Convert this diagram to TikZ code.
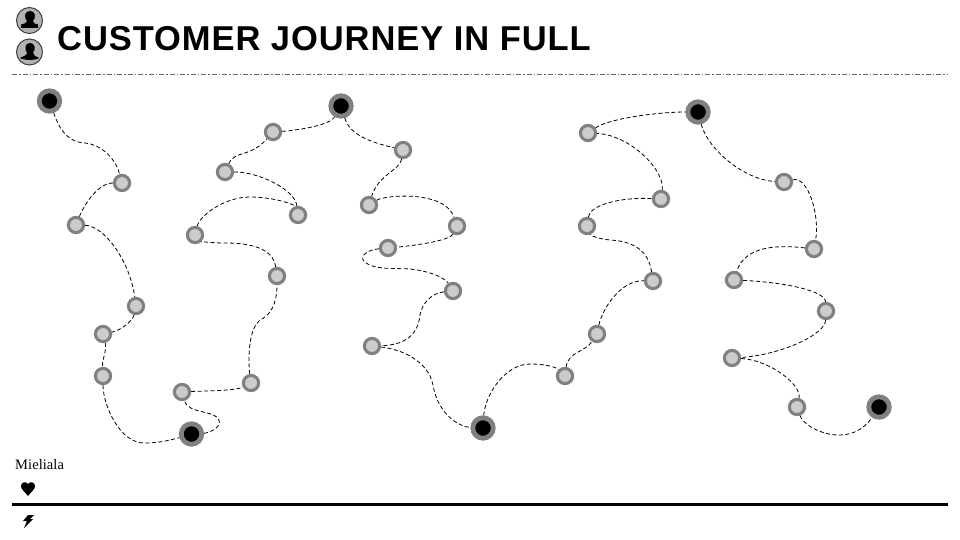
\documentclass[tikz,border=0pt]{standalone}
\usepackage{fontspec}
\setmainfont{Liberation Sans}
\newfontfamily\serifish{Liberation Serif}
\definecolor{ringgray}{gray}{0.5}
\definecolor{corelight}{gray}{0.8}
\tikzset{
 x=1pt,y=-1pt,
 stopA/.style={circle,draw=ringgray,line width=3.1pt,fill=corelight,minimum size=15.2pt,inner sep=0pt},
 stopB/.style={circle,draw=ringgray,line width=4.8pt,fill=black,minimum size=20.5pt,inner sep=0pt},
 link/.style={draw=black,line width=0.8pt,dash pattern=on 4pt off 2.5pt},
 avatar/.style={circle,draw=black!75,line width=1pt,fill=black!30,minimum size=26pt,inner sep=0pt},
}
\begin{document}
\begin{tikzpicture}
\useasboundingbox (0,0) rectangle (960,540);
\fill[white] (0,0) rectangle (960,540);
% header
\node[avatar] (av1) at (29.5,20.5) {};
\fill[black] (21,28) -- (38,28) -- (38,24.5) .. controls (35,23.5) and (33,23.5) .. (33,21) .. controls (36,18) and (36,11) .. (30,11) .. controls (24,11) and (24,18) .. (27,21) .. controls (27,23.5) and (24,23.5) .. (21,24.5) -- cycle;
\node[avatar] (av2) at (29.5,52) {};
\fill[black] (20,58) .. controls (23,56) and (27,56) .. (27,52.5) .. controls (24,49) and (25,43) .. (30,43) .. controls (35,43) and (36,49) .. (33,52.5) .. controls (33,56) and (36,56) .. (39,58) .. controls (36,60.5) and (24,60.5) .. (20,58) -- cycle;
\node[anchor=base west,inner sep=0pt,font=\bfseries\fontsize{34.5}{36}\selectfont\addfontfeatures{LetterSpace=2.7}] (title) at (57,51) {CUSTOMER JOURNEY IN FULL};
\coordinate (ruleL) at (12,74.5);
\coordinate (ruleR) at (948,74.5);
\draw[black!60,line width=1.2pt,dash pattern=on 5pt off 2pt on 1.5pt off 2pt] (ruleL) -- (ruleR);
% stops
\foreach \n/\x/\y/\s in {
 1/49.5/101/stopB,2/122/183/stopA,3/76/225/stopA,4/136/306/stopA,5/103/334/stopA,6/103/376/stopA,7/191.5/434/stopB,
 8/182/392/stopA,9/251/383/stopA,10/277/276/stopA,11/195/235/stopA,12/298/215/stopA,13/225/172/stopA,14/273/132/stopA,15/341/106/stopB,
 16/403/150/stopA,17/369/205/stopA,18/457/226/stopA,19/388/248/stopA,20/453/291/stopA,21/372/346/stopA,22/483/428/stopB,
 23/565/376/stopA,24/597/334/stopA,25/653/281/stopA,26/587/226/stopA,27/661/199/stopA,28/588/133/stopA,29/698/112/stopB,
 30/784/182/stopA,31/814/249/stopA,32/734/280/stopA,33/826/311/stopA,34/732/358/stopA,35/797/407/stopA,36/879/407/stopB}
 {\node[\s] (n\n) at (\x,\y) {};}
% connectors
\path[link] (n1) .. controls (58,125) and (65,142) .. (85,143) .. controls (103,145) and (116,160) .. (n2);
\path[link] (n2) .. controls (98,183) and (84,205) .. (n3);
\path[link] (n3) .. controls (105,226) and (130,262) .. (n4);
\path[link] (n4) .. controls (133,320) and (122,330) .. (n5);
\path[link] (n5) .. controls (107,350) and (102,360) .. (n6);
\path[link] (n6) .. controls (103,405) and (120,444) .. (145,443) .. controls (162,443) and (178,438) .. (n7);
\path[link] (n7) .. controls (208,433) and (222,428) .. (219,420) .. controls (215,410) and (188,414) .. (n8);
\path[link] (n8) .. controls (200,391) and (235,391) .. (n9);
\path[link] (n9) .. controls (248,360) and (248,326) .. (262,319) .. controls (275,312) and (277,295) .. (n10);
\path[link] (n10) .. controls (273,248) and (250,243) .. (225,243) .. controls (210,243) and (200,241) .. (n11);
\path[link] (n11) .. controls (200,215) and (225,197) .. (250,197) .. controls (275,197) and (295,205) .. (n12);
\path[link] (n12) .. controls (295,190) and (260,172) .. (n13);
\path[link] (n13) .. controls (235,150) and (250,158) .. (n14);
\path[link] (n14) .. controls (300,130) and (330,125) .. (n15);
\path[link] (n15) .. controls (350,135) and (370,142) .. (n16);
\path[link] (n16) .. controls (400,170) and (378,175) .. (n17);
\path[link] (n17) .. controls (385,195) and (445,190) .. (n18);
\path[link] (n18) .. controls (450,240) and (420,245) .. (n19);
\path[link] (n19) .. controls (365,250) and (358,258) .. (366,263) .. controls (376,270) and (395,268) .. (410,269) .. controls (430,271) and (445,278) .. (n20);
\path[link] (n20) .. controls (432,293) and (422,303) .. (420,315) .. controls (418,335) and (405,345) .. (n21);
\path[link] (n21) .. controls (400,349) and (428,360) .. (433,385) .. controls (438,415) and (460,427) .. (n22);
\path[link] (n22) .. controls (485,395) and (505,364) .. (530,364) .. controls (545,364) and (556,367) .. (n23);
\path[link] (n23) .. controls (568,352) and (585,352) .. (n24);
\path[link] (n24) .. controls (602,310) and (620,280) .. (n25);
\path[link] (n25) .. controls (648,248) and (630,241) .. (610,240) .. controls (598,239) and (590,235) .. (n26);
\path[link] (n26) .. controls (590,205) and (620,197) .. (n27);
\path[link] (n27) .. controls (665,170) and (630,135) .. (n28);
\path[link] (n28) .. controls (610,118) and (660,112) .. (n29);
\path[link] (n29) .. controls (708,150) and (745,180) .. (n30);
\path[link] (n30) .. controls (808,176) and (820,215) .. (n31);
\path[link] (n31) .. controls (780,245) and (745,245) .. (n32);
\path[link] (n32) .. controls (780,282) and (825,290) .. (n33);
\path[link] (n33) .. controls (825,335) and (780,355) .. (n34);
\path[link] (n34) .. controls (770,360) and (802,385) .. (n35);
\path[link] (n35) .. controls (805,430) and (850,450) .. (n36);
% footer
\node[anchor=base west,inner sep=0pt,font=\serifish\fontsize{14.5}{15}\selectfont\addfontfeatures{LetterSpace=0.5}] (cap) at (15,469) {Mieliala};
\fill[black] (28,496) .. controls (24,491) and (21,489) .. (21,486) .. controls (21,482) and (26,481) .. (28,484) .. controls (30,481) and (35,482) .. (35,486) .. controls (35,489) and (32,491) .. (28,496) -- cycle;
\coordinate (barL) at (12,504.5);
\coordinate (barR) at (948,504.5);
\draw[black,line width=3pt] (barL) -- (barR);
\fill[black] (28,515) -- (34,515) -- (30,519) -- (33,519) -- (24,528) -- (27,521) -- (23,521) -- cycle;
\end{tikzpicture}
\end{document}
